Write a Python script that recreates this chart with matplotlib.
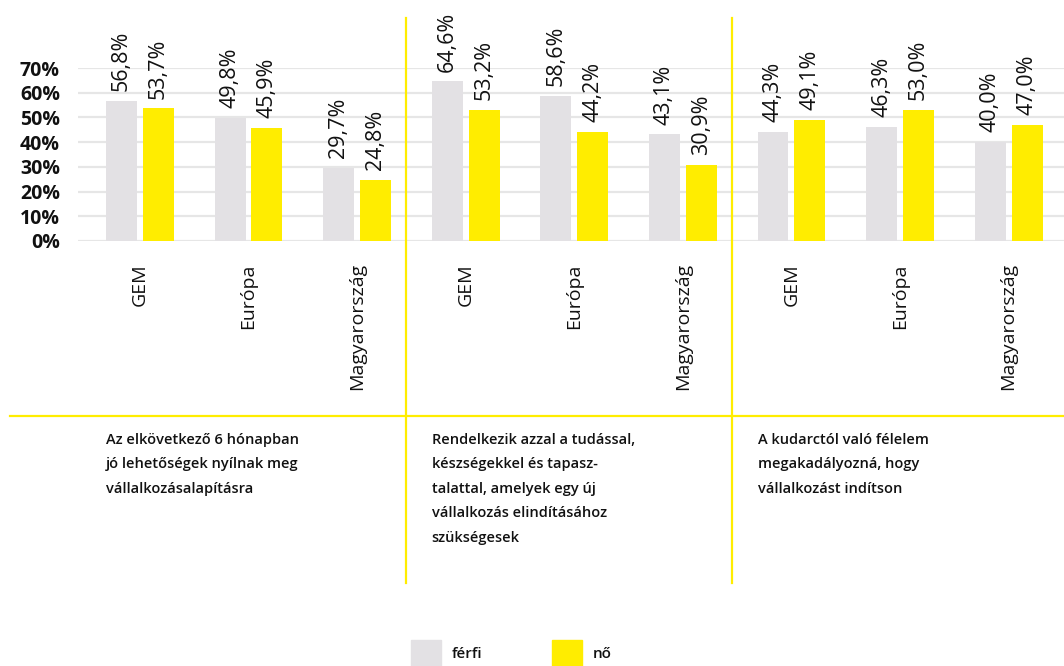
import numpy as np
import matplotlib.pyplot as plt
from matplotlib.patches import Rectangle
from matplotlib.lines import Line2D

# data
countries = ['GEM', 'Európa', 'Magyarország'] * 3
ferfi = [56.8, 49.8, 29.7, 64.6, 58.6, 43.1, 44.3, 46.3, 40.0]
no = [53.7, 45.9, 24.8, 53.2, 44.2, 30.9, 49.1, 53.0, 47.0]
questions = [
    'Az elkövetkező 6 hónapban\njó lehetőségek nyílnak meg\nvállalkozásalapításra',
    'Rendelkezik azzal a tudással,\nkészségekkel és tapasz-\ntalattal, amelyek egy új\nvállalkozás elindításához\nszükségesek',
    'A kudarctól való félelem\nmegakadályozná, hogy\nvállalkozást indítson',
]
yticks = [0, 10, 20, 30, 40, 50, 60, 70]
series_names = ['férfi', 'nő']

GRAY = '#e3e1e4'
YELLOW = '#ffed00'
GRID = '#e6e6e6'
INK = '#111111'

plt.rcParams['font.family'] = ['Open Sans', 'DejaVu Sans']

fig = plt.figure(figsize=(10.64, 6.66), dpi=100)
ax = fig.add_axes([78/1064, 425/666, 986/1064, 173/666])

x = np.arange(len(countries))
off, w = 0.17, 0.285
b1 = ax.bar(x - off, ferfi, w, color=GRAY, zorder=2)
b2 = ax.bar(x + off, no, w, color=YELLOW, zorder=2)

# value labels above the bars
for bars, vals in [(b1, ferfi), (b2, no)]:
    for b, v in zip(bars, vals):
        ax.annotate(f'{v:.1f}%'.replace('.', ','), (b.get_x() + b.get_width()/2, v),
                    xytext=(0, 7), textcoords='offset points', rotation=90,
                    ha='center', va='bottom', fontsize=15.5, fontweight='medium', color=INK)

ax.set_xlim(-0.57, 8.51)
ax.set_ylim(0, 70)
ax.set_yticks(yticks, [f'{t}%' for t in yticks], fontsize=14, fontweight='bold', color=INK)
ax.set_xticks(x, countries, rotation=90, fontsize=14, fontweight='medium', color=INK)
ax.tick_params(axis='y', length=0, pad=13)
ax.tick_params(axis='x', length=0, pad=16)
ax.grid(axis='y', color=GRID, linewidth=1.6, zorder=0)
ax.set_axisbelow(True)
for s in ax.spines.values():
    s.set_visible(False)

# section separators
for sx in [2.45, 5.45]:
    ax.plot([sx, sx], [-1.977, 1.289], color=YELLOW, linewidth=1.6,
            transform=ax.get_xaxis_transform(), clip_on=False)
fig.add_artist(Line2D([10/1064, 1], [250/666, 250/666], color=YELLOW, linewidth=1.6))

# question texts below each section
for i, q in enumerate(questions):
    ax.text(3*i - off - w/2, -1.11, q, transform=ax.get_xaxis_transform(),
            ha='left', va='top', fontsize=10.5, fontweight='semibold',
            color=INK, linespacing=1.95)

# legend
for (lx, tx), c, name in zip([(411, 452), (552, 593)], [GRAY, YELLOW], series_names):
    fig.add_artist(Rectangle((lx/1064, -4/666), 30/1064, 30/666, color=c,
                             transform=fig.transFigure))
    fig.text(tx/1064, 12/666, name, ha='left', va='center', fontsize=11,
             fontweight='semibold', color=INK)

fig.savefig('out.png', dpi=100)
